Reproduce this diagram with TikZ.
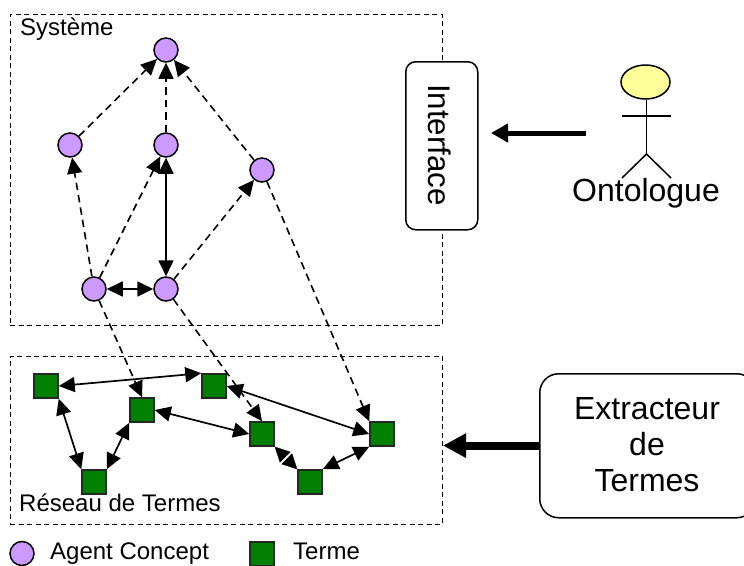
\documentclass[tikz,border=0pt]{standalone}
\usepackage{fontspec}
\setmainfont{Liberation Sans}
\usetikzlibrary{arrows.meta,shapes.geometric}
\tikzset{
  x=1pt,y=-1pt,
  agent/.style={circle,draw=black,line width=1.5pt,fill=agentcol,minimum size=24pt,inner sep=0pt},
  terme/.style={rectangle,draw=black!85,line width=1.5pt,fill=termcol,minimum size=24pt,inner sep=0pt},
  frame/.style={draw=black,line width=0.9pt,dash pattern=on 5pt off 3.5pt,rectangle,inner sep=0pt,anchor=north west},
  big/.style={draw=black,line width=1.5pt,fill=white,rounded corners=10pt,rectangle,inner sep=0pt,anchor=north west,align=center},
  dep/.style={line width=1.6pt,dash pattern=on 7.5pt off 5pt,-{Triangle[length=16pt,width=15pt]}},
  link/.style={line width=1.7pt,{Triangle[length=16pt,width=15pt]}-{Triangle[length=16pt,width=15pt]}},
  shortlink/.style={line width=0.2pt,white,{Triangle[length=14.8pt,width=15pt,black]}-{Triangle[length=14.8pt,width=15pt,black]}},
  thick arrow/.style={line width=5pt,-{Triangle[length=17pt,width=18pt]}},
  thicker arrow/.style={line width=8pt,-{Triangle[length=23pt,width=23pt]}},
  small/.style={font=\fontsize{24}{28}\selectfont,inner sep=0pt,anchor=base west},
  large/.style={font=\fontsize{32}{37}\selectfont,inner sep=0pt,align=center},
  actorline/.style={line width=1.5pt,draw=black}
}
\definecolor{agentcol}{HTML}{CC99FF}
\definecolor{termcol}{HTML}{008000}
\definecolor{headcol}{HTML}{FFFF99}
\begin{document}
\begin{tikzpicture}
\useasboundingbox (0,0) rectangle (744,565);
% frames
\node[frame,minimum width=432pt,minimum height=311pt] (systeme) at (10,14) {};
\node[frame,minimum width=432pt,minimum height=168pt] (reseau) at (10,356) {};
\node[small] (lsys) at (20,35.7) {Système};
\node[small] (lres) at (19,511.7) {Réseau de Termes};
% nodes
\node[agent] (a1) at (166,50) {};
\node[agent] (a2) at (70,145) {};
\node[agent] (a3) at (166,145) {};
\node[agent] (a4) at (262,170) {};
\node[agent] (a5) at (94,289) {};
\node[agent] (a6) at (166,289) {};
\node[terme] (t1) at (46,386) {};
\node[terme] (t2) at (142,410) {};
\node[terme] (t3) at (214,386) {};
\node[terme] (t4) at (262,434) {};
\node[terme] (t5) at (382,434) {};
\node[terme] (t6) at (94,482) {};
\node[terme] (t7) at (310,482) {};
% agent links
\draw[dep] (a2) -- (a1);
\draw[dep] (a3) -- (a1);
\draw[dep] (a4) -- (a1);
\draw[dep] (a5) -- (a2);
\draw[dep] (a5) -- (a3);
\draw[dep] (a6) -- (a4);
\draw[link] (a5) -- (a6);
\draw[link] (a6) -- (a3);
\draw[dep] (a5) -- (t2.north);
\draw[dep] (a6) -- (t4.north);
\draw[dep] (a4) -- (t5.north west);
% term links
\draw[link] (t1.east) -- (t3.north west);
\draw[link] (t1.south east) -- (t6.north west);
\draw[link] (t2.south west) -- (t6.north east);
\draw[link] (t2.east) -- (t4.west);
\draw[link] (t3.east) -- (t5.west);
\draw[shortlink] (t4.south east) -- (t7.north west);
\draw[link] (t7.north east) -- (t5.south west);
% interface
\node[big,minimum width=72pt,minimum height=168pt] (iface) at (405,61) {};
\node[large,font=\fontsize{31.3}{36}\selectfont,rotate=-90] (lif) at (440,145) {Interface};
% actor
\node[ellipse,draw=black,line width=1.5pt,fill=headcol,minimum width=49pt,minimum height=34pt,inner sep=0pt] (head) at (645.5,82) {};
\coordinate (hip) at (646.5,154);
\coordinate (armL) at (622,116);
\coordinate (armR) at (671,116);
\coordinate (legL) at (622,178);
\coordinate (legR) at (671,178);
\draw[actorline] (head.south -| hip) -- (hip);
\draw[actorline] (armL) -- (armR);
\draw[actorline] (legL) -- (hip) -- (legR);
\node[large,anchor=base] (onto) at (646,201.7) {Ontologue};
\coordinate (ontoA) at (586,133);
\coordinate (ifaceA) at (491,133);
\draw[thick arrow] (ontoA) -- (ifaceA);
% extracteur
\node[big,rounded corners=19pt,minimum width=216pt,minimum height=144pt] (extr) at (539,373) {};
\node[large,font=\fontsize{32}{36}\selectfont] (lex) at (647,444.5) {Extracteur\\de\\Termes};
\coordinate (extrA) at (539,445.6);
\coordinate (resA) at (443,445.6);
\draw[thicker arrow] (extrA) -- (resA);
% legend
\node[agent] (lega) at (22,553.5) {};
\node[small] (llega) at (50,559.5) {Agent Concept};
\node[terme] (legt) at (262,554) {};
\node[small] (llegt) at (293,559.5) {Terme};
\end{tikzpicture}
\end{document}
